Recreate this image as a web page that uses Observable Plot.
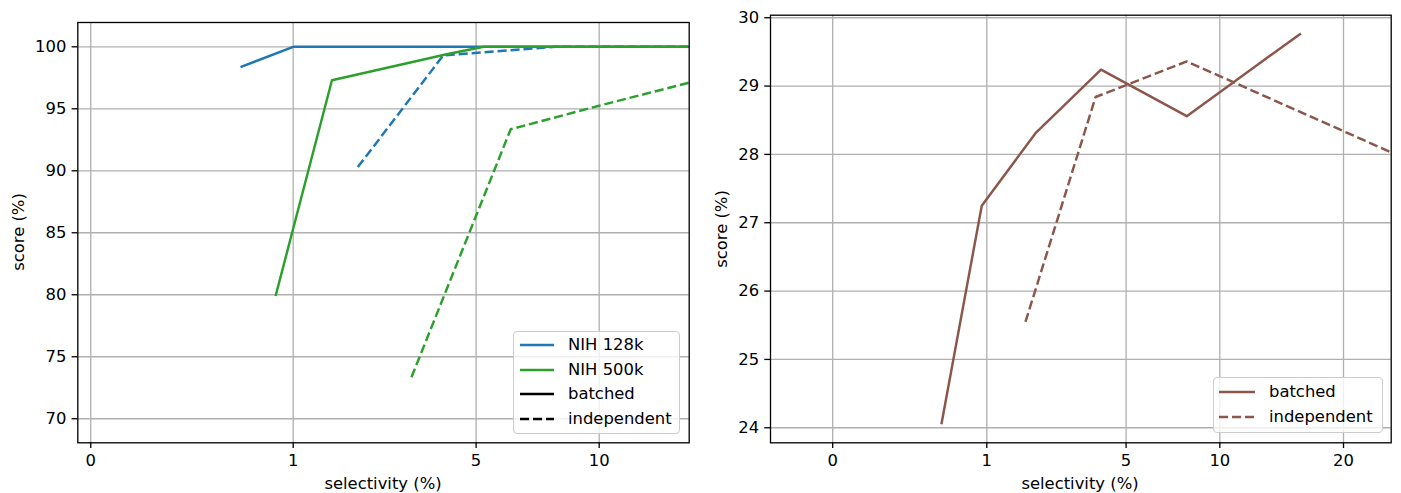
<!DOCTYPE html>
<html>
<head>
<meta charset="utf-8">
<script src="https://cdn.jsdelivr.net/npm/d3@7"></script>
<script src="https://cdn.jsdelivr.net/npm/@observablehq/plot@0.6"></script>
<style>
  html, body { margin: 0; padding: 0; background: #fff; }
  #wrap { position: relative; width: 1401px; height: 493px; font-family: "DejaVu Sans", sans-serif; font-size: 16.4px; color: #000; overflow: hidden; }
  .panel { position: absolute; top: 0; }
  .lab { position: absolute; white-space: nowrap; line-height: 1; }
  .legend { position: absolute; box-sizing: border-box; border: 1.3px solid #cccccc; border-radius: 4px; background: rgba(255,255,255,0.8); }
  .legend .row { position: absolute; left: 0; height: 20px; }
  .legend svg { position: absolute; top: 0; }
  .legend span { position: absolute; top: 0; line-height: 20px; white-space: nowrap; }
</style>
</head>
<body>
<div id="wrap"></div>
<script>
// ---------- data (left panel: NIH datasets) ----------
const sel128Batched   = [0.48, 1, 2, 4, 8, 16];
const score128Batched = [98.4, 100, 100, 100, 100, 100];
const sel128Indep     = [2, 4, 8, 16];
const score128Indep   = [90.3, 99.3, 100, 100];
const sel500Batched   = [0.8, 1.55, 4.1, 5.25, 8, 16];
const score500Batched = [80.0, 97.3, 99.4, 100, 100, 100];
const sel500Indep     = [3.16, 6.2, 10, 15];
const score500Indep   = [73.35, 93.35, 95.25, 97.1];
const xTicksLeft = [0, 1, 5, 10];
const yTicksLeft = [70, 75, 80, 85, 90, 95, 100];

// ---------- data (right panel) ----------
const selRBatched   = [0.42, 0.92, 2, 4, 8, 16];
const scoreRBatched = [24.07, 27.25, 28.32, 29.24, 28.56, 29.76];
const selRIndep     = [1.75, 3.8, 8, 25];
const scoreRIndep   = [25.55, 28.84, 29.36, 28.03];
const xTicksRight = [0, 1, 5, 10, 20];
const yTicksRight = [24, 25, 26, 27, 28, 29, 30];

const BLUE = "#1f77b4", GREEN = "#2ca02c", BROWN = "#8c564b";
const LW = 2.46, DASH = "9.1,3.9", FS = 16.4;

const rows = (xs, ys) => xs.map((x, i) => ({x, y: ys[i]}));

function panel({left, width, margins, xDomain, yDomain, xTicks, yTicks, series}) {
  const grid = {stroke: "#b0b0b0", strokeOpacity: 1, strokeWidth: 1.31};
  const marks = [
    Plot.gridX(xTicks, grid),
    Plot.gridY(yTicks, grid),
    ...series.map(s => Plot.line(rows(s.x, s.y), {
      x: "x", y: "y", stroke: s.color, strokeWidth: LW, clip: true,
      strokeDasharray: s.dashed ? DASH : null,
      strokeLinecap: s.dashed ? "butt" : "square", strokeLinejoin: "round"
    })),
    Plot.frame({stroke: "black", strokeWidth: 1.31}),
    Plot.axisX(xTicks, {tickSize: 5.7, tickPadding: 5.7, strokeWidth: 1.31, tickFormat: d => String(d), label: null, fontSize: FS}),
    Plot.axisY(yTicks, {tickSize: 5.7, tickPadding: 5.7, strokeWidth: 1.31, tickFormat: d => String(d), label: null, fontSize: FS})
  ];
  const svg = Plot.plot({
    width, height: 493,
    marginLeft: margins[0], marginRight: margins[1], marginTop: margins[2], marginBottom: margins[3],
    x: {type: "pow", exponent: 0.4, domain: xDomain},
    y: {domain: yDomain},
    style: {fontFamily: "DejaVu Sans", fontSize: FS + "px", color: "black", background: "transparent", overflow: "visible"},
    marks
  });
  const div = document.createElement("div");
  div.className = "panel";
  div.style.left = left + "px";
  div.appendChild(svg);
  return div;
}

const wrap = document.getElementById("wrap");

wrap.appendChild(panel({
  left: 0, width: 700, margins: [77.3, 11.3, 22, 50.7],
  xDomain: [-0.00104, 15.03], yDomain: [68.06, 101.96],
  xTicks: xTicksLeft, yTicks: yTicksLeft,
  series: [
    {x: sel128Batched, y: score128Batched, color: BLUE, dashed: false},
    {x: sel128Indep, y: score128Indep, color: BLUE, dashed: true},
    {x: sel500Batched, y: score500Batched, color: GREEN, dashed: false},
    {x: sel500Indep, y: score500Indep, color: GREEN, dashed: true}
  ]
}));

wrap.appendChild(panel({
  left: 700, width: 701, margins: [70, 10.3, 14.7, 50.7],
  xDomain: [-0.1035, 25.0], yDomain: [23.78, 30.037],
  xTicks: xTicksRight, yTicks: yTicksRight,
  series: [
    {x: selRBatched, y: scoreRBatched, color: BROWN, dashed: false},
    {x: selRIndep, y: scoreRIndep, color: BROWN, dashed: true}
  ]
}));

// axis titles
function label(text, cx, cy, rotate) {
  const d = document.createElement("div");
  d.className = "lab";
  d.textContent = text;
  d.style.left = cx + "px";
  d.style.top = cy + "px";
  d.style.transform = "translate(-50%,-50%)" + (rotate ? " rotate(-90deg)" : "");
  wrap.appendChild(d);
}
label("selectivity (%)", 383, 484, false);
label("score (%)", 19, 232, true);
label("selectivity (%)", 1080, 484, false);
label("score (%)", 722, 228.5, true);

// legends
function legend(x, y, w, h, entries) {
  const box = document.createElement("div");
  box.className = "legend";
  Object.assign(box.style, {left: x + "px", top: y + "px", width: w + "px", height: h + "px"});
  entries.forEach((e, i) => {
    const r = document.createElement("div");
    r.className = "row";
    r.style.top = (e.cy - y - 10) + "px";
    r.style.width = w + "px";
    r.innerHTML = `<svg width="40" height="20" style="left:${e.lx - x}px"><line x1="0" x2="${e.lw}" y1="10" y2="10" stroke="${e.color}" stroke-width="${LW}" ${e.dashed ? `stroke-dasharray="${DASH}"` : ""}/></svg><span style="left:${e.tx - x}px">${e.text}</span>`;
    box.appendChild(r);
  });
  wrap.appendChild(box);
}
legend(513, 330.5, 167, 103, [
  {text: "NIH 128k", color: BLUE, dashed: false, cy: 344, lx: 519, lw: 34, tx: 567},
  {text: "NIH 500k", color: GREEN, dashed: false, cy: 368.5, lx: 519, lw: 34, tx: 567},
  {text: "batched", color: "#000", dashed: false, cy: 393, lx: 519, lw: 34, tx: 567},
  {text: "independent", color: "#000", dashed: true, cy: 417.5, lx: 519, lw: 34, tx: 567}
]);
legend(1212.5, 377.3, 170, 55.5, [
  {text: "batched", color: BROWN, dashed: false, cy: 391.5, lx: 1218, lw: 36, tx: 1268},
  {text: "independent", color: BROWN, dashed: true, cy: 416, lx: 1218, lw: 36, tx: 1268}
]);
</script>
</body>
</html>
